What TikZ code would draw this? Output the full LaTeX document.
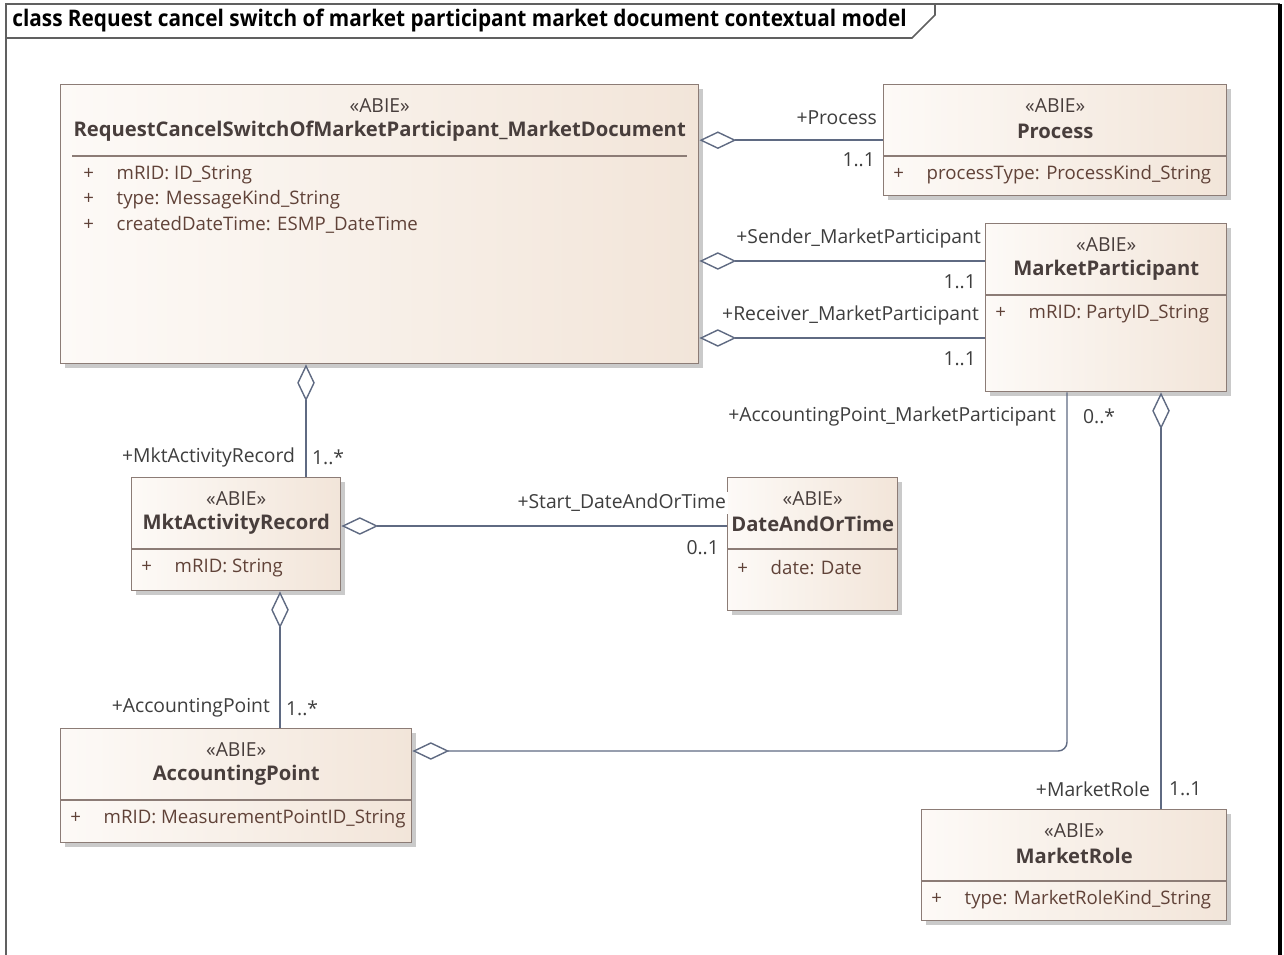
\documentclass[tikz,border=0pt]{standalone}
\usepackage{fontspec}
\setmainfont{Open Sans}
\newfontfamily\titlefont[FakeStretch=0.91]{Open Sans}
\usetikzlibrary{calc, shadows, arrows.meta}

\definecolor{clsborder}{RGB}{140,124,118}
\definecolor{clsleft}{RGB}{253,250,247}
\definecolor{clsright}{RGB}{242,229,217}
\definecolor{clstext}{RGB}{72,62,60}
\definecolor{attrtext}{RGB}{96,66,56}
\definecolor{roletext}{RGB}{62,62,62}
\definecolor{linecol}{RGB}{95,106,130}
\definecolor{framegray}{RGB}{96,96,96}

\newcommand{\umlclass}[7]{% box name, x, y, width, height, class name, separator inset
  \node[cls, minimum width=#4*0.02cm, minimum height=#5*0.02cm] (#1) at (#2,#3) {};
  \node[stereo] (#1-st) at ($(#1.north)+(0,22)$) {«ABIE»};
  \node[clsname] (#1-nm) at ($(#1.north)+(0,47)$) {#6};
  \draw[sepline] ($(#1.north west)+(#7,72)$) -- ($(#1.north east)+(-#7,72)$);
}
\newcommand{\umlattr}[4]{% box name, x offset, line no, text
  \node[attr] (#1-a#3) at ($(#1.north west)+(#2,{91+25*(#3-1)})$) {\makebox[19pt][l]{+}#4};
}

\begin{document}
\begin{tikzpicture}[x=0.02cm, y=-0.02cm,
    cls/.style={rectangle, anchor=north west, inner sep=0pt, draw=clsborder, line width=0.8pt,
      left color=clsleft, right color=clsright,
      drop shadow={shadow xshift=2.2pt, shadow yshift=-2.2pt, fill=black!35, opacity=0.6}},
    stereo/.style={font=\fontsize{11}{13}\selectfont, text=clstext, inner sep=0pt},
    clsname/.style={font=\fontsize{11.5}{13}\selectfont\bfseries, text=clstext, inner sep=0pt},
    attr/.style={font=\fontsize{10.6}{13}\selectfont, text=attrtext, anchor=west, inner sep=0pt},
    sepline/.style={draw=clsborder, line width=0.8pt},
    role/.style={font=\fontsize{11}{13}\selectfont, text=roletext, fill=white, inner sep=1pt},
    aggr/.style={draw=linecol, line width=0.8pt, {Diamond[fill=white, length=21pt, width=10pt]}-}
]
    \useasboundingbox (0,0) rectangle (1284,955);
    % diagram frame
    \draw[framegray, line width=1.5pt] (6,970) -- (6,4) -- (1280,4);
    \draw[black, line width=1.8pt] (1280,4) -- (1280,970);
    \draw[framegray, line width=1pt] (6,38) -- (912,38) -- (935,15) -- (935,4);
    \node[anchor=west, inner sep=0pt, font=\titlefont\fontsize{13}{15}\selectfont\bfseries] (title) at (12,21)
      {class Request cancel switch of market participant market document contextual model};

    % classes
    \umlclass{doc}{60}{84}{638}{279}{RequestCancelSwitchOfMarketParticipant\_MarketDocument}{12}
    \umlattr{doc}{23}{1}{mRID: ID\_String}
    \umlattr{doc}{23}{2}{type: MessageKind\_String}
    \umlattr{doc}{23}{3}{createdDateTime: ESMP\_DateTime}

    \umlclass{process}{883}{84}{343}{111}{Process}{0}
    \umlattr{process}{10}{1}{processType: ProcessKind\_String}

    \umlclass{mp}{985}{223}{241}{168}{MarketParticipant}{0}
    \umlattr{mp}{10}{1}{mRID: PartyID\_String}

    \umlclass{mar}{131}{477}{209}{113}{MktActivityRecord}{0}
    \umlattr{mar}{10}{1}{mRID: String}

    \umlclass{dat}{727}{477}{170}{133}{DateAndOrTime}{0}
    \umlattr{dat}{10}{1}{date: Date}

    \umlclass{ap}{60}{728}{351}{114}{AccountingPoint}{0}
    \umlattr{ap}{10}{1}{mRID: MeasurementPointID\_String}

    \umlclass{mr}{921}{809}{305}{111}{MarketRole}{0}
    \umlattr{mr}{10}{1}{type: MarketRoleKind\_String}

    % aggregations
    \draw[aggr] (doc.east |- process.west) -- (process.west);
    \node[role, anchor=east] (r-proc) at ($(process.west)+(-4,-22)$) {+Process};
    \node[role, anchor=east] (m-proc) at ($(process.west)+(-6,20)$) {1..1};

    \draw[aggr] (doc.east |- {$(mp.north west)+(0,38)$}) -- ($(mp.north west)+(0,38)$);
    \node[role, anchor=east] (r-send) at ($(mp.north west)+(-2,15)$) {+Sender\_MarketParticipant};
    \node[role, anchor=east] (m-send) at ($(mp.north west)+(-7,59)$) {1..1};

    \draw[aggr] (doc.east |- {$(mp.north west)+(0,115)$}) -- ($(mp.north west)+(0,115)$);
    \node[role, anchor=east] (r-recv) at ($(mp.north west)+(-4,92)$) {+Receiver\_MarketParticipant};
    \node[role, anchor=east] (m-recv) at ($(mp.north west)+(-7,136)$) {1..1};

    \draw[aggr] (doc.south -| {$(mar.north west)+(175,0)$}) -- ($(mar.north west)+(175,0)$);
    \node[role, anchor=east] (r-mar) at ($(mar.north west)+(166,-20)$) {+MktActivityRecord};
    \node[role, anchor=west] (m-mar) at ($(mar.north west)+(179,-20)$) {1..*};

    \draw[aggr] ($(mar.north east)+(0,49)$) -- (dat.west |- {$(mar.north east)+(0,49)$});
    \node[role, anchor=east] (r-dat) at ($(dat.north west)+(1,26)$) {+Start\_DateAndOrTime};
    \node[role, anchor=east] (m-dat) at ($(dat.north west)+(-6,71)$) {0..1};

    \draw[aggr] (mar.south -| {$(ap.north west)+(220,0)$}) -- ($(ap.north west)+(220,0)$);
    \node[role, anchor=east] (r-ap) at ($(ap.north west)+(212,-20)$) {+AccountingPoint};
    \node[role, anchor=west] (m-ap) at ($(ap.north west)+(224,-20)$) {1..*};

    \draw[aggr, rounded corners=5pt] ($(ap.north east)+(0,23)$) -| ($(mp.south west)+(82,0)$);
    \node[role, anchor=east] (r-apmp) at ($(mp.south west)+(73,24)$) {+AccountingPoint\_MarketParticipant};
    \node[role, anchor=west] (m-apmp) at ($(mp.south west)+(96,24)$) {0..*};

    \draw[aggr] ($(mp.south west)+(176,0)$) -- (mr.north -| {$(mp.south west)+(176,0)$});
    \node[role, anchor=east] (r-mr) at ($(mr.north west)+(231,-20)$) {+MarketRole};
    \node[role, anchor=west] (m-mr) at ($(mr.north west)+(246,-20)$) {1..1};
\end{tikzpicture}
\end{document}
